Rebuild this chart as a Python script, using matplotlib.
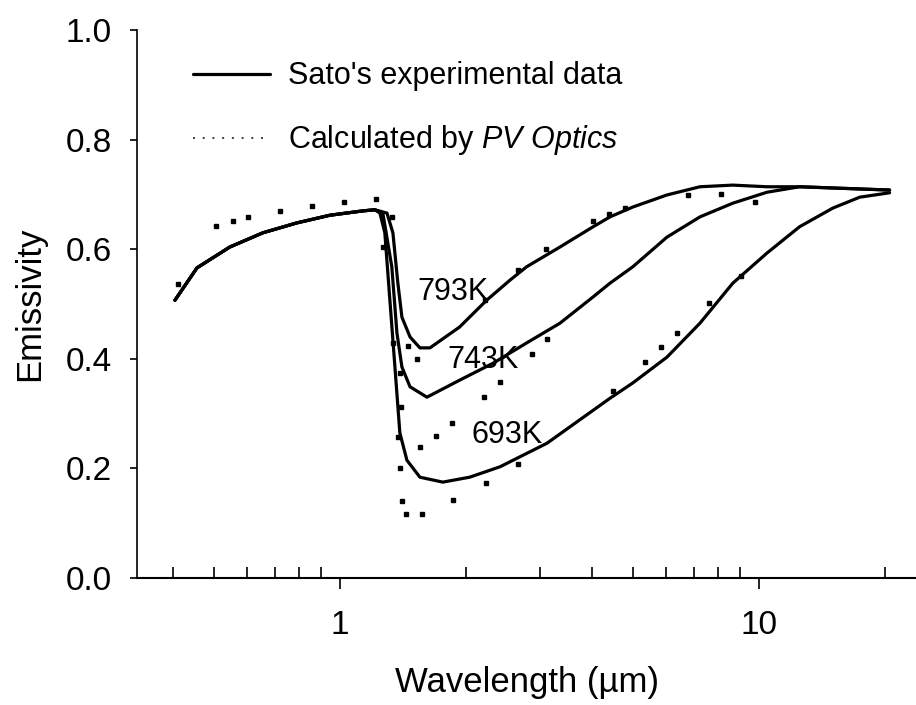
import matplotlib
matplotlib.use("Agg")
import matplotlib.pyplot as plt
from matplotlib.lines import Line2D
import numpy as np

plt.rcParams['font.family'] = ['Liberation Sans', 'DejaVu Sans']
plt.rcParams['mathtext.fontset'] = 'custom'
plt.rcParams['mathtext.rm'] = 'Liberation Sans'
plt.rcParams['mathtext.it'] = 'Liberation Sans:italic'

# Sato's experimental data: common part below the band edge
wl_common = [0.404, 0.456, 0.546, 0.655, 0.789, 0.946, 1.135, 1.212]
em_common = [0.507, 0.566, 0.604, 0.630, 0.648, 0.662, 0.670, 0.672]

# the three temperatures after the band edge
wl_693 = [1.246, 1.28, 1.316, 1.353, 1.39, 1.445, 1.552, 1.76, 2.04, 2.41, 3.12,
          4.41, 5.0, 6.03, 7.23, 8.66, 10.45, 12.5, 15.0, 17.4, 20.5]
em_693 = [0.666, 0.630, 0.507, 0.385, 0.265, 0.215, 0.184, 0.175, 0.184, 0.203, 0.246,
          0.328, 0.356, 0.403, 0.465, 0.538, 0.593, 0.641, 0.675, 0.695, 0.703]

wl_743 = [1.266, 1.33, 1.368, 1.406, 1.47, 1.613, 1.93, 2.32, 2.79, 3.35, 4.02,
          4.41, 5.0, 6.03, 7.23, 8.66, 10.45, 12.5, 20.5]
em_743 = [0.666, 0.568, 0.447, 0.385, 0.349, 0.330, 0.361, 0.392, 0.429, 0.465, 0.513,
          0.538, 0.568, 0.622, 0.659, 0.684, 0.704, 0.714, 0.708]

wl_793 = [1.295, 1.338, 1.375, 1.406, 1.47, 1.552, 1.64, 1.93, 2.24, 2.55, 2.79,
          3.35, 4.02, 4.41, 5.0, 6.03, 7.23, 8.66, 10.45, 12.5, 20.5]
em_793 = [0.666, 0.630, 0.538, 0.476, 0.440, 0.420, 0.420, 0.458, 0.507, 0.544, 0.568,
          0.604, 0.641, 0.659, 0.677, 0.699, 0.714, 0.717, 0.714, 0.714, 0.708]

# calculated by PV Optics (dots)
calc_wl_common = [0.411, 0.506, 0.555, 0.603, 0.719, 0.858, 1.022, 1.219, 1.266, 1.331]
calc_em_common = [0.536, 0.642, 0.652, 0.659, 0.670, 0.679, 0.686, 0.692, 0.604, 0.659]

calc_wl_793 = [1.338, 1.39, 1.453, 1.527, 2.22, 2.66, 3.10, 4.02, 4.39, 4.79, 6.77, 8.11]
calc_em_793 = [0.429, 0.374, 0.423, 0.400, 0.507, 0.562, 0.600, 0.651, 0.664, 0.675, 0.699, 0.701]

calc_wl_743 = [1.375, 1.398, 1.552, 1.695, 1.85, 2.207, 2.409, 2.872, 3.12, 9.78]
calc_em_743 = [0.257, 0.312, 0.239, 0.259, 0.283, 0.330, 0.358, 0.409, 0.436, 0.686]

calc_wl_693 = [1.39, 1.406, 1.437, 1.569, 1.861, 2.23, 2.66, 4.48, 5.35, 5.84, 6.37, 7.60, 9.06]
calc_em_693 = [0.201, 0.141, 0.117, 0.117, 0.142, 0.173, 0.208, 0.341, 0.394, 0.422, 0.447, 0.502, 0.551]

temp_labels = ['793K', '743K', '693K']
label_wl = [1.527, 1.80, 2.065]
label_em = [0.507, 0.383, 0.246]

x_ticks = [1, 10]
x_ticklabels = ['1', '10']
y_ticks = [0.0, 0.2, 0.4, 0.6, 0.8, 1.0]


def main():
    fig = plt.figure(figsize=(9.16, 7.05), dpi=100)
    ax = fig.add_axes([0.1496, 0.1801, 0.8504, 0.7773])

    exp_line = None
    for wl, em in [(wl_793, em_793), (wl_743, em_743), (wl_693, em_693)]:
        x = np.concatenate([wl_common, wl])
        y = np.concatenate([em_common, em])
        exp_line, = ax.plot(x, y, color='black', lw=2.3, solid_capstyle='round',
                            solid_joinstyle='round')

    calc_x = calc_wl_common + calc_wl_793 + calc_wl_743 + calc_wl_693
    calc_y = calc_em_common + calc_em_793 + calc_em_743 + calc_em_693
    ax.plot(calc_x, calc_y, ls='none', marker='s', ms=2.6, color='black')

    for lab, lx, ly in zip(temp_labels, label_wl, label_em):
        ax.text(lx, ly, lab, fontsize=22, ha='left', va='baseline')

    ax.set_xscale('log')
    ax.set_xlim(0.328, 23.7)
    ax.set_ylim(0.0, 1.0)

    ax.set_xticks(x_ticks)
    ax.set_xticklabels(x_ticklabels)
    ax.set_yticks(y_ticks)
    ax.set_yticklabels([f'{v:.1f}' for v in y_ticks])

    ax.tick_params(axis='x', which='major', direction='out', length=8, width=1.2,
                   labelsize=24, pad=15)
    ax.tick_params(axis='x', which='minor', direction='in', length=8, width=1.2)
    ax.tick_params(axis='y', which='major', direction='out', length=5, width=1.2,
                   labelsize=24, pad=13)

    for side in ['top', 'right']:
        ax.spines[side].set_visible(False)
    ax.spines['left'].set_linewidth(1.2)
    ax.spines['bottom'].set_linewidth(1.5)

    ax.set_xlabel('Wavelength (\u00b5m)', fontsize=25, labelpad=18)
    ax.set_ylabel('Emissivity', fontsize=25, labelpad=14)

    calc_handle = Line2D([], [], color='0.25', lw=1.4, ls=(0, (1, 4)))
    ax.legend([exp_line, calc_handle],
              ["Sato's experimental data", r'Calculated by $\mathit{PV\ Optics}$'],
              loc='upper left', bbox_to_anchor=(0.072, 0.943), frameon=False,
              fontsize=22, handlelength=2.5, handletextpad=0.6,
              labelspacing=1.05, borderpad=0, borderaxespad=0)

    fig.savefig('out.png', dpi=100)


if __name__ == '__main__':
    main()
